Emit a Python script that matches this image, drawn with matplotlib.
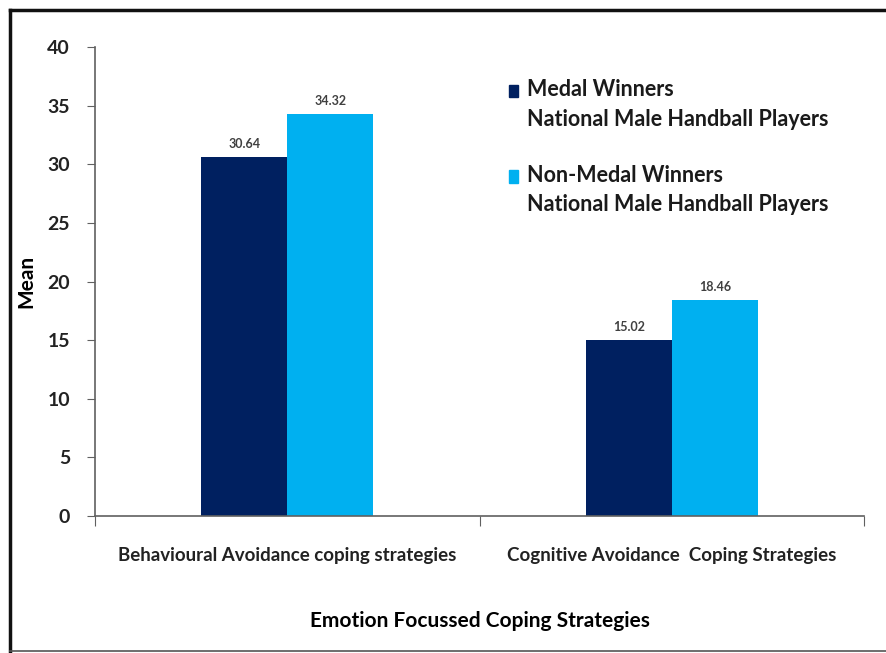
import matplotlib
matplotlib.use('Agg')
import matplotlib.pyplot as plt
from matplotlib.patches import Rectangle
from matplotlib.lines import Line2D
import numpy as np

plt.rcParams['font.family'] = ['Lato', 'DejaVu Sans']

categories = ['Behavioural Avoidance coping strategies', 'Cognitive Avoidance  Coping Strategies']
medal = [30.64, 15.02]
non_medal = [34.32, 18.46]
series_names = ['Medal Winners\nNational Male Handball Players',
                'Non-Medal Winners\nNational Male Handball Players']
colors = ['#002060', '#00B0F0']
yticks = [0, 5, 10, 15, 20, 25, 30, 35, 40]

fig = plt.figure(figsize=(8.86, 6.53), dpi=100)
ax = fig.add_axes([0.1072, 0.2098, 0.8680, 0.7182])

x = np.arange(len(categories))
w = 0.224
b1 = ax.bar(x - w / 2, medal, w, color=colors[0])
b2 = ax.bar(x + w / 2, non_medal, w, color=colors[1])
for bars, vals in [(b1, medal), (b2, non_medal)]:
    for r, v in zip(bars, vals):
        ax.text(r.get_x() + r.get_width() / 2, v + 0.6, f'{v:.2f}', ha='center', va='bottom',
                fontsize=9, fontweight='bold', color='#404040')

ax.set_xlim(-0.5, 1.5)
ax.set_ylim(0, 40)
ax.set_yticks(yticks)
ax.set_yticklabels([str(t) for t in yticks], fontsize=14, fontweight='bold', color='#222222')
ax.set_xticks([-0.5, 0.5, 1.5])
ax.set_xticklabels([])
ax.set_xticks(x, minor=True)
ax.set_xticklabels(categories, minor=True, fontsize=13.5, fontweight='bold', color='#222222')
ax.tick_params(axis='x', which='major', direction='out', length=7, color='#606060')
ax.tick_params(axis='x', which='minor', length=0, pad=22)
ax.tick_params(axis='y', direction='out', length=6, color='#606060', pad=12)

for s in ['top', 'right']:
    ax.spines[s].set_visible(False)
for s in ['left', 'bottom']:
    ax.spines[s].set_color('#606060')
    ax.spines[s].set_linewidth(1.2)

ax.set_ylabel('Mean', fontsize=15, fontweight='bold', labelpad=8)
ax.set_xlabel('Emotion Focussed Coping Strategies', fontsize=15, fontweight='bold', labelpad=34)

# legend, drawn by hand so the swatch sits on the first line
leg_y = [0.907, 0.725]
for c, name, yy in zip(colors, series_names, leg_y):
    ax.add_patch(Rectangle((0.538, yy - 0.014), 0.0125, 0.027, transform=ax.transAxes,
                           color=c, clip_on=False))
    ax.text(0.5615, yy + 0.024, name, transform=ax.transAxes, va='top', ha='left',
            fontsize=15.5, fontweight='bold', color='#1a1a1a', linespacing=1.5)

# outer frame
fig.add_artist(Line2D([0.0113, 1.0], [0.984, 0.984], color='#111111', lw=2.5))
fig.add_artist(Line2D([0.0113, 0.0113], [0.003, 0.984], color='#111111', lw=2.5))
fig.add_artist(Line2D([0.0113, 1.0], [0.003, 0.003], color='#555555', lw=1.2))

fig.savefig('out.png', dpi=100)
